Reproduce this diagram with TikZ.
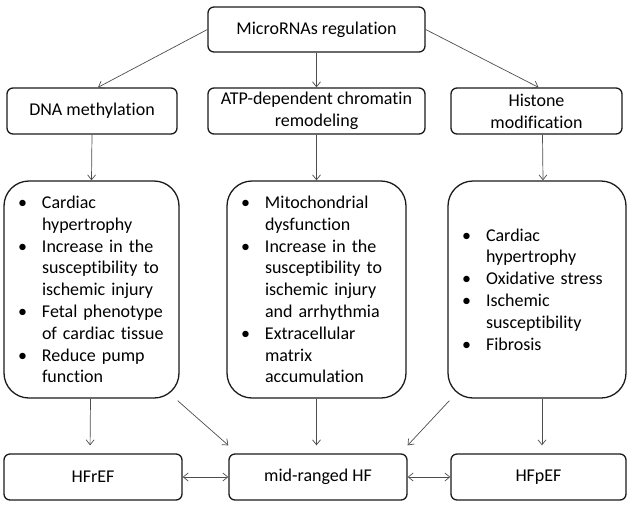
\documentclass[tikz,border=0pt]{standalone}
\usepackage{fontspec}
\setmainfont{Carlito}[Ligatures={NoCommon,NoContextual}]
\usepackage{tikz}
\usepackage{xcolor}
\usetikzlibrary{arrows.meta,calc,positioning}
\definecolor{BoxLine}{HTML}{1A1A1A}
\definecolor{ArrowGray}{HTML}{4D4D4D}
\newcommand{\bitem}[1]{\mbox{\makebox[24pt][l]{\textbullet}#1}\\}
\newcommand{\bcont}[1]{\mbox{\hspace*{24pt}#1}\\}

\begin{document}
\begin{tikzpicture}[x=1pt, y=-1pt,
    every node/.style={font=\fontsize{18}{21.8}\selectfont},
    smallbox/.style={draw=BoxLine, line width=1.3pt, rounded corners=6pt,
        minimum height=46pt, inner sep=2pt, align=center},
    bigbox/.style={draw=BoxLine, line width=1.3pt, rounded corners=25pt,
        minimum height=217pt, inner xsep=14pt, align=left},
    arr/.style={-{Straight Barb[length=5pt,width=8pt]}, draw=ArrowGray, line width=0.7pt},
    dblarr/.style={{Straight Barb[length=5pt,width=8pt]}-{Straight Barb[length=5pt,width=8pt]}, draw=ArrowGray, line width=0.7pt}]
    \useasboundingbox (0,0) rectangle (634,507);

    % Top: regulation
    \node[smallbox, minimum width=217pt, minimum height=45pt] (mirna) at (316.5,29.5) {MicroRNAs regulation};

    % Second row: mechanisms
    \node[smallbox, minimum width=170pt] (dnameth) at (92,111) {DNA methylation};
    \node[smallbox, minimum width=217pt] (atpdep) at (316.5,111) {ATP-dependent chromatin\\remodeling};
    \node[smallbox, minimum width=171pt] (histone) at (536.5,111) {Histone\\modification};

    % Third row: effects
    \node[bigbox, minimum width=175pt, text width=147pt] (effdna) at (91.5,289.5) {%
        \bitem{Cardiac}\bcont{hypertrophy}%
        \bitem{Increase in the}\bcont{susceptibility to}\bcont{ischemic injury}%
        \bitem{Fetal phenotype}\bcont{of cardiac tissue}%
        \bitem{Reduce pump}\bcont{function}};
    \node[bigbox, minimum width=179pt, text width=151pt] (effatp) at (316.5,289.5) {%
        \bitem{Mitochondrial}\bcont{dysfunction}%
        \bitem{Increase in the}\bcont{susceptibility to}\bcont{ischemic injury}\bcont{and arrhythmia}%
        \bitem{Extracellular}\bcont{matrix}\bcont{accumulation}};
    \node[bigbox, minimum width=178pt, text width=150pt] (effhist) at (537,289.5) {%
        \bitem{Cardiac}\bcont{hypertrophy}%
        \bitem{Oxidative stress}%
        \bitem{Ischemic}\bcont{susceptibility}%
        \bitem{Fibrosis}};

    % Bottom row: heart failure types
    \node[smallbox, minimum width=178pt] (hfref) at (93,477) {HFrEF};
    \node[smallbox, minimum width=178pt] (hfmid) at (318,477) {mid-ranged HF};
    \node[smallbox, minimum width=175pt] (hfpef) at (538.5,477) {HFpEF};

    % Arrows from regulation
    \draw[arr] (mirna.west) -- ([xshift=6pt]dnameth.north);
    \draw[arr] (mirna.south) -- (atpdep.north);
    \draw[arr] (mirna.east) -- ([xshift=2pt]histone.north);

    % Arrows to effects
    \draw[arr] (dnameth.south) -- (effdna.north);
    \draw[arr] (atpdep.south) -- (effatp.north);
    \draw[arr] ([xshift=6pt]histone.south) -- ([xshift=6pt]effhist.north);

    % Arrows to heart failure
    \draw[arr, shorten >=8pt] ([xshift=-1pt]effdna.south) -- ([xshift=-3pt]hfref.north);
    \draw[arr] ([xshift=-2pt,yshift=-2pt]effdna.south east) -- ([yshift=8pt]hfmid.north west);
    \draw[arr, shorten >=8pt] (effatp.south) -- ([xshift=-1.5pt]hfmid.north);
    \draw[arr] ([xshift=2pt,yshift=-2pt]effhist.south west) -- ([yshift=8pt]hfmid.north east);
    \draw[arr, shorten >=8pt] ([xshift=5pt]effhist.south) -- ([xshift=3.5pt]hfpef.north);

    % Links between HF types
    \draw[dblarr] (hfref.east) -- (hfmid.west);
    \draw[dblarr] (hfmid.east) -- (hfpef.west);
\end{tikzpicture}
\end{document}
